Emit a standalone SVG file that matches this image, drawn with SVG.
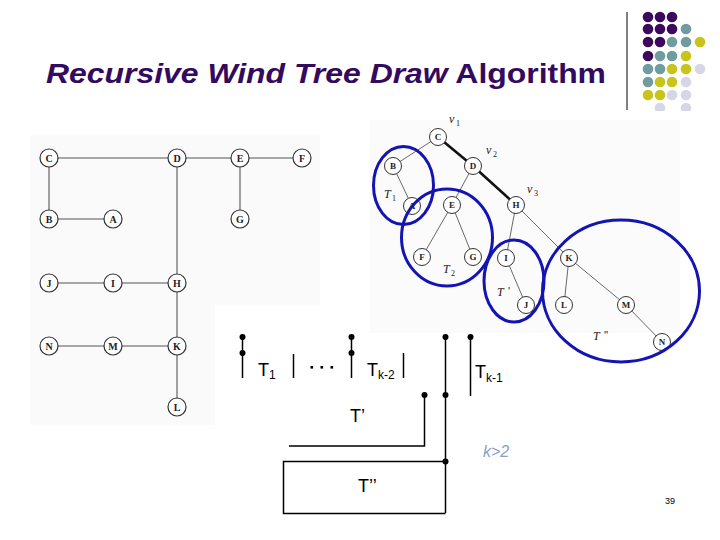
<svg xmlns="http://www.w3.org/2000/svg" width="720" height="540" viewBox="0 0 720 540">
<style>
.title{font-family:"Liberation Sans",Arial,sans-serif;font-weight:bold;font-size:28px;fill:#330a5e}
.ln{fill:#fff;stroke:#333;stroke-width:1.2}
.rn{fill:#fff;stroke:#333;stroke-width:1}
.lt{font-family:"Liberation Serif","Times New Roman",serif;font-weight:bold;font-size:10px;text-anchor:middle;fill:#222}
.rt{font-family:"Liberation Serif","Times New Roman",serif;font-weight:bold;font-size:9px;text-anchor:middle;fill:#222}
.le{stroke:#555;stroke-width:1.1;fill:none}
.re{stroke:#444;stroke-width:0.8;fill:none}
.thick{stroke:#111;stroke-width:2.6;fill:none}
.blue{fill:none;stroke:#1414b4;stroke-width:3}
.math{font-family:"Liberation Serif","Times New Roman",serif;font-style:italic;font-size:12px;fill:#222}
.sub{font-family:"Liberation Serif","Times New Roman",serif;font-size:8px;fill:#222}
.pr{font-family:"Liberation Sans",Arial,sans-serif;font-size:11px;fill:#222}
.bl{stroke:#000;stroke-width:1.5;fill:none}
.dt{fill:#000}
.tl{font-family:"Liberation Sans",Arial,sans-serif;font-size:18px;fill:#000}
.ts{font-family:"Liberation Sans",Arial,sans-serif;font-size:12px;fill:#000}
.pu{fill:#3b0a5c}.te{fill:#6f9c9e}.ye{fill:#c8c41c}.la{fill:#d6d6e8}
</style>
<defs>
<clipPath id="dotclip"><rect x="630" y="0" width="90" height="111"/></clipPath>
</defs>
<!-- faint image backgrounds -->
<rect x="30" y="135" width="290" height="290" fill="#fafafa"/>
<rect x="215" y="305" width="110" height="125" fill="#fff"/>
<rect x="370" y="120" width="310" height="213" fill="#fbfbfb"/>
<!-- title -->
<text class="title" x="46" y="83" textLength="560" lengthAdjust="spacingAndGlyphs"><tspan font-style="italic">Recursive Wind Tree Draw</tspan> Algorithm</text>
<!-- decoration -->
<g id="decor">
<line x1="627" y1="12" x2="627" y2="110" stroke="#000" stroke-width="1"/>
<g clip-path="url(#dotclip)">
<circle class="pu" cx="648" cy="17" r="5.3"/><circle class="pu" cx="660" cy="17" r="5.3"/><circle class="pu" cx="672" cy="17" r="5.3"/>
<circle class="pu" cx="648" cy="29" r="5.3"/><circle class="pu" cx="660" cy="29" r="5.3"/><circle class="pu" cx="672" cy="29" r="5.3"/><circle class="te" cx="686" cy="29" r="5.3"/>
<circle class="pu" cx="648" cy="42" r="5.3"/><circle class="pu" cx="660" cy="42" r="5.3"/><circle class="te" cx="672" cy="42" r="5.3"/><circle class="te" cx="686" cy="42" r="5.3"/><circle class="ye" cx="700" cy="42" r="5.3"/>
<circle class="pu" cx="648" cy="56" r="5.3"/><circle class="te" cx="660" cy="56" r="5.3"/><circle class="te" cx="672" cy="56" r="5.3"/><circle class="ye" cx="686" cy="56" r="5.3"/>
<circle class="te" cx="648" cy="69" r="5.3"/><circle class="te" cx="660" cy="69" r="5.3"/><circle class="ye" cx="672" cy="69" r="5.3"/><circle class="ye" cx="686" cy="69" r="5.3"/><circle class="la" cx="700" cy="69" r="5.3"/>
<circle class="te" cx="648" cy="82" r="5.3"/><circle class="ye" cx="660" cy="82" r="5.3"/><circle class="ye" cx="672" cy="82" r="5.3"/><circle class="la" cx="686" cy="82" r="5.3"/>
<circle class="ye" cx="648" cy="95" r="5.3"/><circle class="ye" cx="660" cy="95" r="5.3"/><circle class="la" cx="672" cy="95" r="5.3"/><circle class="la" cx="686" cy="95" r="5.3"/>
<circle class="la" cx="660" cy="108" r="5.3"/><circle class="la" cx="686" cy="108" r="5.3"/>
</g>
</g>
<!-- left tree connectors -->
<g id="left-edges">
<line class="le" x1="49" y1="158" x2="177" y2="158"/>
<line class="le" x1="177" y1="158" x2="240" y2="158"/>
<line class="le" x1="240" y1="158" x2="302" y2="158"/>
<line class="le" x1="49" y1="158" x2="49" y2="219"/>
<line class="le" x1="49" y1="219" x2="113" y2="219"/>
<line class="le" x1="240" y1="158" x2="240" y2="219"/>
<line class="le" x1="177" y1="158" x2="177" y2="283"/>
<line class="le" x1="49" y1="283" x2="177" y2="283"/>
<line class="le" x1="177" y1="283" x2="177" y2="346"/>
<line class="le" x1="49" y1="346" x2="177" y2="346"/>
<line class="le" x1="177" y1="346" x2="177" y2="407"/>
</g>
<g id="left-nodes">
<g id="lC"><circle class="ln" cx="49" cy="158" r="9"/><text class="lt" x="49" y="161.5">C</text></g>
<g id="lD"><circle class="ln" cx="177" cy="158" r="9"/><text class="lt" x="177" y="161.5">D</text></g>
<g id="lE"><circle class="ln" cx="240" cy="158" r="9"/><text class="lt" x="240" y="161.5">E</text></g>
<g id="lF"><circle class="ln" cx="302" cy="158" r="9"/><text class="lt" x="302" y="161.5">F</text></g>
<g id="lB"><circle class="ln" cx="49" cy="219" r="9"/><text class="lt" x="49" y="222.5">B</text></g>
<g id="lA"><circle class="ln" cx="113" cy="219" r="9"/><text class="lt" x="113" y="222.5">A</text></g>
<g id="lG"><circle class="ln" cx="240" cy="219" r="9"/><text class="lt" x="240" y="222.5">G</text></g>
<g id="lJ"><circle class="ln" cx="49" cy="283" r="9"/><text class="lt" x="49" y="286.5">J</text></g>
<g id="lI"><circle class="ln" cx="113" cy="283" r="9"/><text class="lt" x="113" y="286.5">I</text></g>
<g id="lH"><circle class="ln" cx="177" cy="283" r="9"/><text class="lt" x="177" y="286.5">H</text></g>
<g id="lN"><circle class="ln" cx="49" cy="346" r="9"/><text class="lt" x="49" y="349.5">N</text></g>
<g id="lM"><circle class="ln" cx="113" cy="346" r="9"/><text class="lt" x="113" y="349.5">M</text></g>
<g id="lK"><circle class="ln" cx="177" cy="346" r="9"/><text class="lt" x="177" y="349.5">K</text></g>
<g id="lL"><circle class="ln" cx="177" cy="407" r="9"/><text class="lt" x="177" y="410.5">L</text></g>
</g>
<!-- right tree -->
<g id="right-edges">
<line class="re" x1="438" y1="137" x2="393" y2="166"/>
<line class="thick" x1="438" y1="137" x2="473" y2="166"/>
<line class="thick" x1="473" y1="166" x2="516" y2="205"/>
<line class="re" x1="473" y1="166" x2="452" y2="205"/>
<line class="re" x1="393" y1="166" x2="412" y2="206"/>
<line class="re" x1="452" y1="205" x2="422" y2="257"/>
<line class="re" x1="452" y1="205" x2="473" y2="257"/>
<line class="re" x1="516" y1="205" x2="506" y2="258"/>
<line class="re" x1="516" y1="205" x2="569" y2="258"/>
<line class="re" x1="506" y1="258" x2="526" y2="305"/>
<line class="re" x1="569" y1="258" x2="564" y2="305"/>
<line class="re" x1="569" y1="258" x2="626" y2="305"/>
<line class="re" x1="626" y1="305" x2="662" y2="342"/>
</g>
<g id="right-nodes">
<g id="rC"><circle class="rn" cx="438" cy="137" r="8.5"/><text class="rt" x="438" y="140.2">C</text></g>
<g id="rB"><circle class="rn" cx="393" cy="166" r="8.5"/><text class="rt" x="393" y="169.2">B</text></g>
<g id="rD"><circle class="rn" cx="473" cy="166" r="8.5"/><text class="rt" x="473" y="169.2">D</text></g>
<g id="rA"><circle class="rn" cx="412" cy="206" r="8.5"/><text class="rt" x="412" y="209.2">A</text></g>
<g id="rE"><circle class="rn" cx="452" cy="205" r="8.5"/><text class="rt" x="452" y="208.2">E</text></g>
<g id="rH"><circle class="rn" cx="516" cy="205" r="8.5"/><text class="rt" x="516" y="208.2">H</text></g>
<g id="rF"><circle class="rn" cx="422" cy="257" r="8.5"/><text class="rt" x="422" y="260.2">F</text></g>
<g id="rG"><circle class="rn" cx="473" cy="257" r="8.5"/><text class="rt" x="473" y="260.2">G</text></g>
<g id="rI"><circle class="rn" cx="506" cy="258" r="8.5"/><text class="rt" x="506" y="261.2">I</text></g>
<g id="rK"><circle class="rn" cx="569" cy="258" r="8.5"/><text class="rt" x="569" y="261.2">K</text></g>
<g id="rJ"><circle class="rn" cx="526" cy="305" r="8.5"/><text class="rt" x="526" y="308.2">J</text></g>
<g id="rL"><circle class="rn" cx="564" cy="305" r="8.5"/><text class="rt" x="564" y="308.2">L</text></g>
<g id="rM"><circle class="rn" cx="626" cy="305" r="8.5"/><text class="rt" x="626" y="308.2">M</text></g>
<g id="rN"><circle class="rn" cx="662" cy="342" r="8.5"/><text class="rt" x="662" y="345.2">N</text></g>
</g>
<g id="right-labels">
<text class="math" x="449" y="123">v</text><text class="sub" x="456" y="126">1</text>
<text class="math" x="486" y="154">v</text><text class="sub" x="493" y="157">2</text>
<text class="math" x="527" y="193">v</text><text class="sub" x="534" y="196">3</text>
<text class="math" x="384" y="198">T</text><text class="sub" x="392" y="201">1</text>
<text class="math" x="443" y="273">T</text><text class="sub" x="451" y="276">2</text>
<text class="math" x="497" y="296">T</text><text class="pr" x="508" y="295">'</text>
<text class="math" x="593" y="340" font-size="13">T</text><text class="pr" x="604" y="339">''</text>
</g>
<g id="subtree-ellipses">
<ellipse class="blue" cx="403.5" cy="185.5" rx="30" ry="39"/>
<ellipse class="blue" cx="447" cy="237.5" rx="45.5" ry="48.5"/>
<ellipse class="blue" cx="514" cy="281" rx="30" ry="41"/>
<ellipse class="blue" cx="621" cy="291" rx="78.5" ry="71"/>
</g>
<!-- lower schematic -->
<g id="schematic">
<line class="bl" x1="242.5" y1="337" x2="242.5" y2="378"/>
<circle class="dt" cx="242.5" cy="337" r="3"/><circle class="dt" cx="242.5" cy="353" r="3"/>
<text class="tl" x="258" y="376">T</text><text class="ts" x="269" y="379">1</text>
<line class="bl" x1="293.5" y1="354" x2="293.5" y2="378"/>
<rect class="dt" x="310.5" y="366" width="2.6" height="2.6"/><rect class="dt" x="320.5" y="366" width="2.6" height="2.6"/><rect class="dt" x="330.5" y="366" width="2.6" height="2.6"/>
<line class="bl" x1="351.5" y1="337" x2="351.5" y2="378"/>
<circle class="dt" cx="351.5" cy="337" r="3"/><circle class="dt" cx="351.5" cy="353" r="3"/>
<text class="tl" x="367" y="376">T</text><text class="ts" x="378" y="379">k-2</text>
<line class="bl" x1="403.5" y1="353" x2="403.5" y2="378"/>
<line class="bl" x1="445.5" y1="337" x2="445.5" y2="513"/>
<circle class="dt" cx="445.5" cy="337" r="3"/><circle class="dt" cx="445.5" cy="395" r="3"/><circle class="dt" cx="445.5" cy="461.5" r="3"/>
<line class="bl" x1="470.5" y1="337" x2="470.5" y2="396"/>
<circle class="dt" cx="470.5" cy="337" r="3"/>
<text class="tl" x="475" y="378">T</text><text class="ts" x="486" y="382">k-1</text>
<polyline class="bl" points="424.5,395 424.5,446 289,446"/>
<circle class="dt" cx="424.5" cy="395" r="3"/>
<text class="tl" x="350" y="422" font-size="15">T’</text>
<polyline class="bl" points="445.5,461.5 283.5,461.5 283.5,513.5 445.5,513.5"/>
<text class="tl" x="358" y="492" font-size="15">T’’</text>
<text x="483" y="457" font-family="Liberation Sans, Arial, sans-serif" font-style="italic" font-size="16" fill="#8a9cc6">k&gt;2</text>
</g>
<text x="665" y="504" font-family="Liberation Sans, Arial, sans-serif" font-size="9" fill="#000">39</text>
</svg>
